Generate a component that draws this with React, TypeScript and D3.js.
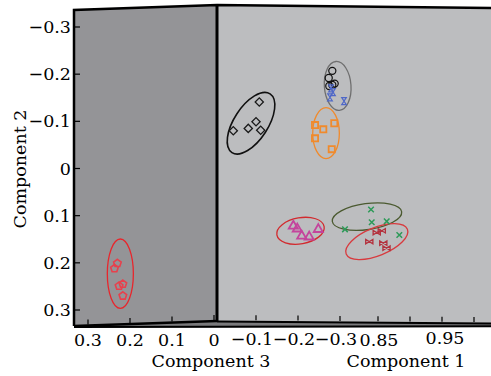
import React from "react";
import * as d3 from "d3";

// ---------- axis ticks ----------
const comp2Ticks = [-0.3, -0.2, -0.1, 0, 0.1, 0.2, 0.3];
const comp3TicksWall = [0.3, 0.2, 0.1, 0];
const comp3TicksFloor = [-0.1, -0.2, -0.3];
const comp1Ticks = [0.85, 0.9, 0.95, 1.0];
const comp1Labeled = [0.85, 0.95];

// ---------- data: [component, component 2] ----------
// wall (component 3 vs component 2)
const redPentagons: [number, number][] = [
  [0.237, 0.212], [0.230, 0.201], [0.226, 0.249], [0.217, 0.245], [0.217, 0.270],
];
// main plane (component 1 vs component 2)
const blackDiamonds: [number, number][] = [
  [0.6645, -0.141], [0.6594, -0.099], [0.6473, -0.085], [0.6667, -0.081], [0.6239, -0.080],
];
const orangeSquares: [number, number][] = [
  [0.7516, -0.092], [0.7645, -0.083], [0.7817, -0.096], [0.7516, -0.064], [0.7777, -0.041],
];
const blackCircles: [number, number][] = [
  [0.7786, -0.207], [0.7730, -0.192], [0.7823, -0.180], [0.7739, -0.175], [0.7786, -0.177],
];
const blueHourglass: [number, number][] = [
  [0.7766, -0.170], [0.7797, -0.162], [0.7750, -0.151], [0.7969, -0.143],
];
const magentaTriangles: [number, number][] = [
  [0.7177, 0.122], [0.7239, 0.128], [0.7308, 0.143], [0.7425, 0.145], [0.7567, 0.129],
];
const greenCrosses: [number, number][] = [
  [0.8391, 0.087], [0.8402, 0.114], [0.8636, 0.112], [0.7984, 0.129], [0.8833, 0.141],
];
const brownBowties: [number, number][] = [
  [0.8480, 0.136], [0.8559, 0.132], [0.8364, 0.155], [0.8583, 0.158], [0.8633, 0.169],
];

// ellipses: centre, semi-axes (x units, component 2 units), tilt in degrees
const wallEllipse = { cx: 0.223, cy: 0.223, rx: 0.031, ry: 0.0735, angle: 0 };
const planeEllipses = [
  { key: "diamond", cx: 0.6516, cy: -0.096, rx: 0.0547, ry: 0.036, angle: -57 },
  { key: "square", cx: 0.7688, cy: -0.075, rx: 0.0208, ry: 0.054, angle: 0 },
  { key: "circle", cx: 0.7870, cy: -0.175, rx: 0.0208, ry: 0.052, angle: -4 },
  { key: "triangle", cx: 0.7289, cy: 0.132, rx: 0.0375, ry: 0.0276, angle: -10 },
  { key: "cross", cx: 0.8328, cy: 0.102, rx: 0.0547, ry: 0.0276, angle: -8 },
  { key: "bowtie", cx: 0.8481, cy: 0.155, rx: 0.0516, ry: 0.0297, angle: -22 },
];

const ellipseColors: Record<string, string> = {
  diamond: "#111111",
  square: "#f08a2c",
  circle: "#6f6f6f",
  triangle: "#d22a2e",
  cross: "#4b5a30",
  bowtie: "#d83a3e",
  pentagon: "#e8262c",
};

const W = 491;
const H = 376;
const FONT = "'DejaVu Serif', serif";
const FS = 17.5;

// layout (pixels)
const L = 74;
const DIV = 217;
const R = 491;
const topAt = (x: number) => (x <= DIV ? 10 - (5 * (x - L)) / (DIV - L) : 5 + (3 * (x - DIV)) / (R - DIV));
const wallBottomAt = (x: number) => 326 - (5 * (x - L)) / (DIV - L);
const floorTopAt = (x: number) => 321 + (2 * (x - DIV)) / (R - DIV);

function pentagonPath(r: number) {
  const pts = d3.range(5).map((i) => {
    const a = -Math.PI / 2 + (i * 2 * Math.PI) / 5;
    return [r * Math.cos(a), r * Math.sin(a)];
  });
  return "M" + pts.map((p) => p.join(",")).join("L") + "Z";
}

const fmt = (t: number) => d3.format("")(t).replace("-", "\u2212");

export default function App() {
  const x3 = d3.scaleLinear().domain([0.3, -0.3]).range([88, 340]);
  const x1 = d3.scaleLinear().domain([0.85, 0.95]).range([378, 442]);
  const y = d3.scaleLinear().domain([-0.3, 0.3]).range([27, 310]);

  const diamond = d3.symbol(d3.symbolSquare, 34)()!;
  const square = d3.symbol(d3.symbolSquare, 38)()!;
  const circle = d3.symbol(d3.symbolCircle, 40)()!;
  const triangle = d3.symbol(d3.symbolTriangle, 36)()!;
  const cross = d3.symbol(d3.symbolTimes, 22)()!;
  const pentagon = pentagonPath(4);
  const hourglass = "M-2.3,-3.5L2.3,-3.5L-2.3,3.5L2.3,3.5Z";
  const bowtie = "M-3.6,-2.2L-3.6,2.2L3.6,-2.2L3.6,2.2Z";

  const ell = (e: { cx: number; cy: number; rx: number; ry: number; angle: number }, xs: d3.ScaleLinear<number, number>, color: string, sw: number, key: string) => {
    const cx = xs(e.cx);
    const cy = y(e.cy);
    const rx = Math.abs(xs(e.cx + e.rx) - cx);
    const ry = Math.abs(y(e.cy + e.ry) - cy);
    return (
      <ellipse key={key} cx={cx} cy={cy} rx={rx} ry={ry} transform={`rotate(${e.angle},${cx},${cy})`} fill="none" stroke={color} strokeWidth={sw} />
    );
  };

  const marks = (data: [number, number][], xs: d3.ScaleLinear<number, number>, path: string, color: string, sw: number, rot = 0, fill = "none") =>
    data.map((d, i) => (
      <path key={i} d={path} transform={`translate(${xs(d[0])},${y(d[1])}) rotate(${rot})`} fill={fill} stroke={color} strokeWidth={sw} />
    ));

  return (
    <svg width={W} height={H} style={{ position: "absolute", left: 0, top: 0, background: "#fff" }} fontFamily={FONT}>
      {/* floor wedge */}
      <polygon points={`${L},326 ${DIV},321 ${R},323 ${R},327 ${L},327.5`} fill="#7a7a7c" />
      {/* wall panel */}
      <polygon points={`${L},${topAt(L)} ${DIV},${topAt(DIV)} ${DIV},${wallBottomAt(DIV)} ${L},${wallBottomAt(L)}`} fill="#949497" />
      {/* main panel */}
      <polygon points={`${DIV},${topAt(DIV)} ${R},${topAt(R)} ${R},${floorTopAt(R)} ${DIV},${floorTopAt(DIV)}`} fill="#bcbdbf" />

      {/* frame lines */}
      <polyline points={`${L},${wallBottomAt(L)} ${L},${topAt(L)} ${DIV},${topAt(DIV)} ${R},${topAt(R)}`} fill="none" stroke="#000" strokeWidth={2.5} />
      <line x1={DIV} y1={topAt(DIV)} x2={DIV} y2={wallBottomAt(DIV)} stroke="#000" strokeWidth={3} />
      <line x1={L} y1={wallBottomAt(L)} x2={DIV} y2={wallBottomAt(DIV)} stroke="#000" strokeWidth={2.5} />
      <line x1={DIV} y1={floorTopAt(DIV) + 0.5} x2={R} y2={floorTopAt(R) + 0.5} stroke="#000" strokeWidth={2.2} />
      <line x1={L} y1={327} x2={R} y2={326.2} stroke="#000" strokeWidth={2} />

      {/* y axis ticks */}
      {comp2Ticks.map((t) => (
        <g key={t}>
          <line x1={L} x2={L + 6} y1={y(t)} y2={y(t)} stroke="#000" strokeWidth={1.2} />
          <text x={L - 3} y={y(t)} dy="0.35em" textAnchor="end" fontSize={FS}>
            {fmt(t)}
          </text>
        </g>
      ))}

      {/* component 3 ticks on wall */}
      {comp3TicksWall.map((t) => (
        <g key={"w" + t}>
          <line x1={x3(t)} x2={x3(t)} y1={wallBottomAt(x3(t)) - 1} y2={wallBottomAt(x3(t)) - 6} stroke="#000" strokeWidth={1.2} />
          <text x={x3(t)} y={346} textAnchor="middle" fontSize={FS}>
            {fmt(t)}
          </text>
        </g>
      ))}
      {comp3TicksFloor.map((t) => (
        <g key={"f" + t}>
          <line x1={x3(t)} x2={x3(t)} y1={floorTopAt(x3(t)) - 1} y2={floorTopAt(x3(t)) - 6} stroke="#000" strokeWidth={1.2} />
          <text x={x3(t) - 4} y={345} textAnchor="middle" fontSize={FS}>
            {fmt(t)}
          </text>
        </g>
      ))}
      {comp1Ticks.map((t) => (
        <line key={"c1" + t} x1={x1(t)} x2={x1(t)} y1={floorTopAt(x1(t)) - 1} y2={floorTopAt(x1(t)) - 6} stroke="#000" strokeWidth={1.2} />
      ))}
      {comp1Labeled.map((t, i) => (
        <text key={"c1l" + t} x={x1(t) + (i === 0 ? 1 : 3)} y={i === 0 ? 345.5 : 344} textAnchor="middle" fontSize={FS}>
          {d3.format(".2f")(t)}
        </text>
      ))}

      {/* axis titles */}
      <text x={211} y={367} textAnchor="middle" fontSize={FS}>Component 3</text>
      <text x={406} y={367} textAnchor="middle" fontSize={FS}>Component 1</text>
      <text transform="translate(26,169) rotate(-90)" textAnchor="middle" fontSize={FS}>Component 2</text>

      {/* ellipses */}
      {ell(wallEllipse, x3, ellipseColors.pentagon, 1.3, "wall")}
      {planeEllipses.map((e) => ell(e, x1, ellipseColors[e.key], e.key === "diamond" ? 1.6 : 1.3, e.key))}

      {/* markers */}
      {marks(redPentagons, x3, pentagon, "#e8404c", 1.6)}
      {marks(blackDiamonds, x1, diamond, "#1a1a1a", 1.3, 45)}
      {marks(orangeSquares, x1, square, "#f08a2c", 1.8)}
      {marks(blackCircles, x1, circle, "#111111", 1.2)}
      {marks(blueHourglass, x1, hourglass, "#4f68c8", 1.2)}
      {marks(magentaTriangles, x1, triangle, "#c4449c", 1.8)}
      {marks(greenCrosses, x1, cross, "#2d9a58", 1.5)}
      {marks(brownBowties, x1, bowtie, "#b4323e", 1.3)}
    </svg>
  );
}
